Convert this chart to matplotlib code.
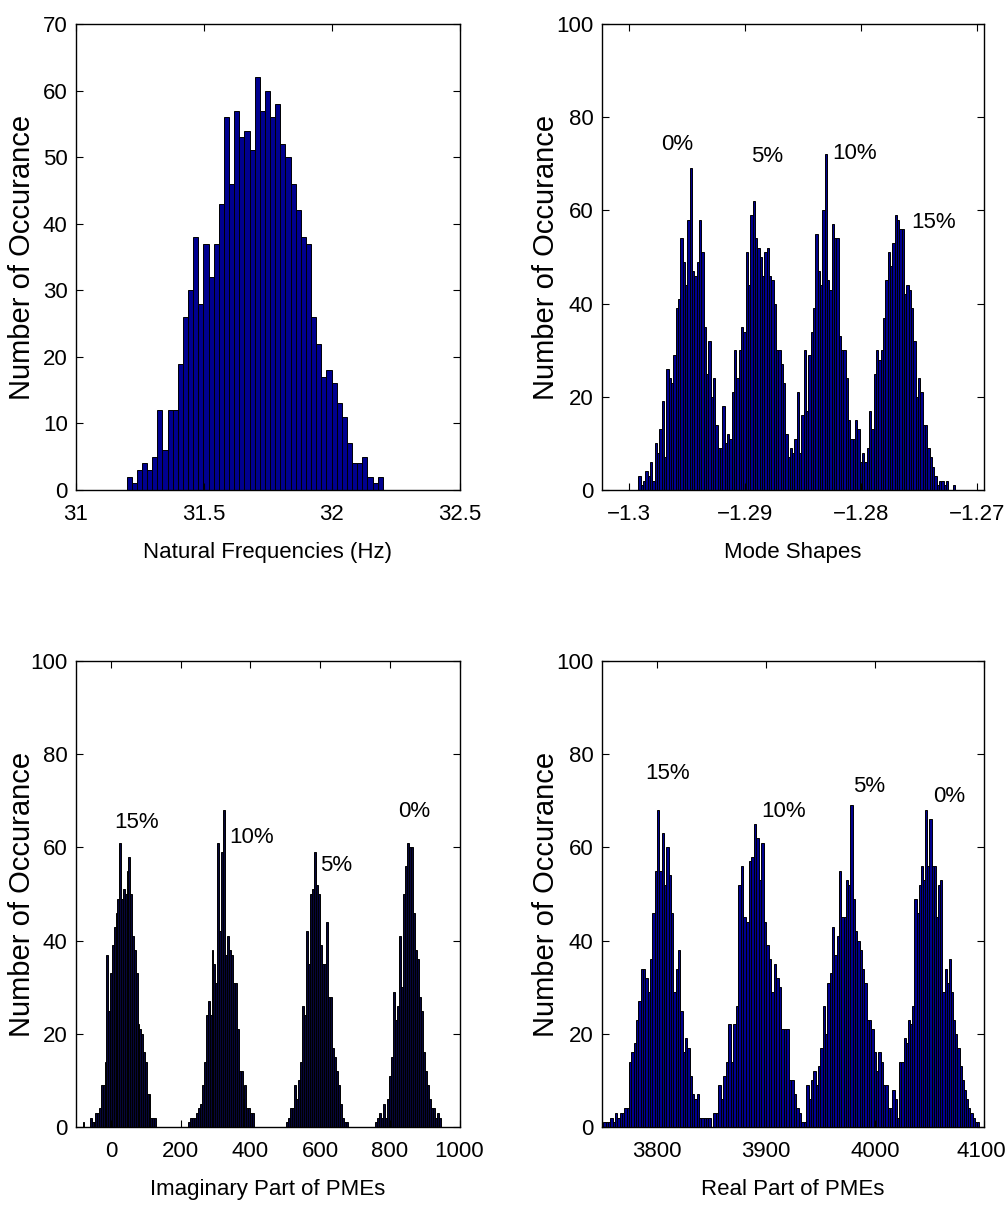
import numpy as np
import matplotlib.pyplot as plt
import matplotlib.transforms as mtransforms

plt.rcParams['font.family'] = ['Liberation Sans', 'DejaVu Sans']

# ---- datos ----
# Panel 1: frecuencias naturales
freq_counts = [2, 1, 3, 4, 3, 5, 12, 6, 12, 12, 19, 26, 30, 38, 28, 37, 32, 37, 43, 56,
               46, 57, 53, 54, 51, 62, 57, 60, 56, 58, 52, 50, 46, 42, 38, 37, 26, 22, 17, 18,
               16, 13, 11, 7, 4, 4, 5, 2, 1, 2]
freq_range = (31.198, 32.2)
freq_ticks = [31, 31.5, 32, 32.5]
freq_ticklabels = ['31', '31.5', '32', '32.5']

# Panel 2: formas modales
mode_counts = [3, 1, 2, 4, 3, 6, 2, 10, 8, 13, 19, 7, 26, 24, 23, 29, 39, 41, 54, 49,
               44, 58, 69, 47, 46, 49, 58, 51, 35, 25, 32, 20, 24, 14, 9, 9, 18, 10, 12, 11,
               21, 30, 24, 30, 35, 34, 51, 44, 59, 62, 54, 52, 50, 46, 51, 52, 46,
               45, 40, 30, 30, 27, 23, 12, 7, 9, 8, 11, 21, 8, 16, 30, 17, 29, 34, 39,
               55, 47, 44, 60, 72, 45, 43, 57, 54, 54, 33, 30, 30, 24, 15, 11, 11, 15, 13, 6,
               8, 6, 9, 17, 13, 25, 30, 28, 30, 37, 45, 51, 48, 53, 59, 58, 56, 56, 42, 44,
               43, 39, 32, 20, 24, 21, 14, 14, 9, 7, 5, 3, 1, 2, 2, 1, 2, 0, 0, 1]
mode_range = (-1.29920, -1.27187)
mode_xlim = (-1.30233, -1.26940)
mode_ticks = [-1.3, -1.29, -1.28, -1.27]
mode_ticklabels = ['\u22121.3', '\u22121.29', '\u22121.28', '\u22121.27']
mode_labels = ['0%', '5%', '10%', '15%']
mode_label_x = [-1.29582, -1.28810, -1.28060, -1.27371]
mode_label_y = [74.2, 71.5, 72.3, 57.3]

# Panel 3: parte imaginaria de los PMEs (un pico por nivel de ruido)
imag_15 = [1, 0, 0, 0, 2, 1, 1, 3, 3, 4, 9, 9, 14, 37, 25, 33, 39, 43, 46, 49,
           61, 49, 51, 50, 55, 58, 50, 41, 38, 33, 22, 21, 20, 16, 14, 7, 7, 2, 2, 2]
imag_10 = [1, 2, 2, 2, 3, 4, 5, 9, 14, 24, 27, 24, 38, 35, 31, 61, 42, 59, 68, 37,
           41, 38, 37, 31, 31, 21, 12, 12, 6, 9, 4, 4, 3, 3]
imag_5 = [1, 2, 4, 4, 9, 6, 10, 14, 26, 24, 42, 35, 50, 51, 59, 52, 50, 39, 35, 35,
          44, 28, 28, 17, 15, 12, 9, 5, 2, 1, 1]
imag_0 = [1, 2, 3, 2, 5, 2, 6, 11, 15, 29, 23, 26, 41, 30, 50, 56, 61, 60, 60, 46,
          38, 36, 28, 25, 16, 12, 9, 6, 4, 4, 2, 3, 2]
imag_ranges = [(-81, 129), (222, 411), (503, 680), (757, 946)]
imag_labels = ['15%', '10%', '5%', '0%']
imag_label_x = [74, 403, 646, 869]
imag_label_y = [65.3, 62.2, 56.2, 67.6]

# Panel 4: parte real de los PMEs
real_15 = [1, 1, 1, 2, 1, 3, 2, 3, 3, 4, 4, 14, 16, 18, 23, 27, 34, 34, 32, 29,
           36, 46, 55, 68, 55, 63, 52, 60, 54, 46, 29, 34, 38, 25, 16, 19, 17, 11, 7, 6,
           7, 2, 2, 2, 2, 2]
real_10 = [3, 3, 9, 6, 11, 14, 22, 14, 22, 26, 52, 56, 45, 44, 57, 58, 65, 62, 53, 61,
           44, 39, 36, 29, 35, 32, 30, 21, 21, 21, 10, 10, 7, 4, 3, 1, 1]
real_5 = [9, 6, 10, 12, 9, 13, 17, 26, 20, 31, 33, 43, 37, 41, 55, 45, 45, 53, 52, 69,
          49, 42, 40, 38, 34, 31, 23, 23, 21, 16, 12, 16, 14, 9, 9, 4, 4, 8, 6, 2]
real_0 = [14, 14, 19, 18, 23, 22, 26, 49, 46, 52, 56, 53, 68, 56, 66, 56, 56, 45, 52, 53,
          29, 34, 31, 36, 29, 23, 20, 17, 13, 10, 8, 6, 4, 3, 2, 1, 1]
real_ranges = [(3751.2, 3849.6), (3852.0, 3937.2), (3937.2, 4022.4), (4022.4, 4095.4)]
real_labels = ['15%', '10%', '5%', '0%']
real_label_x = [3810.5, 3916.8, 3994.6, 4068.4]
real_label_y = [75.8, 67.8, 73.0, 71.0]

ylabel_txt = 'Number of Occurance'
FS = 16


def barras(ax, counts, lo, hi, color='#00008F'):
    # histograma como barras con borde negro (estilo MATLAB)
    n = len(counts)
    w = (hi - lo) / n
    x = lo + w * np.arange(n)
    ax.bar(x, counts, width=w, align='edge', color=color, edgecolor='black', linewidth=0.7)


def estilo(ax, ylim, yticks, xlab_x):
    ax.set_ylim(*ylim)
    ax.set_yticks(yticks)
    ax.tick_params(direction='in', top=True, right=True, length=5, width=0.8,
                   labelsize=FS, pad=10)
    ax.tick_params(axis='y', pad=6)
    for s in ax.spines.values():
        s.set_linewidth(1.0)
    ax.set_ylabel(ylabel_txt, fontsize=21)
    ax.yaxis.set_label_coords(xlab_x, 0.5)


fig = plt.figure(figsize=(10.08, 12.07), dpi=100)
ax1 = fig.add_axes([76/1008, 1-490/1207, 383.5/1008, 466/1207])
ax2 = fig.add_axes([602/1008, 1-490/1207, 382/1008, 466/1207])
ax3 = fig.add_axes([76/1008, 1-1127/1207, 383.5/1008, 466/1207])
ax4 = fig.add_axes([602/1008, 1-1127/1207, 382/1008, 466/1207])

# Grafico 1
barras(ax1, freq_counts, *freq_range)
ax1.set_xlim(31, 32.5)
ax1.set_xticks(freq_ticks)
ax1.set_xticklabels(freq_ticklabels)
estilo(ax1, (0, 70), range(0, 71, 10), -0.104)
ax1.set_xlabel('Natural Frequencies (Hz)', fontsize=FS, labelpad=12)

# Grafico 2
barras(ax2, mode_counts, *mode_range)
ax2.set_xlim(*mode_xlim)
ax2.set_xticks(mode_ticks)
ax2.set_xticklabels(mode_ticklabels)
estilo(ax2, (0, 100), range(0, 101, 20), -0.11)
ax2.set_xlabel('Mode Shapes', fontsize=FS, labelpad=12)
for t, x, y in zip(mode_labels, mode_label_x, mode_label_y):
    ax2.text(x, y, t, fontsize=FS, ha='center', va='center')

# Grafico 3
for c, (lo, hi) in zip([imag_15, imag_10, imag_5, imag_0], imag_ranges):
    barras(ax3, c, lo, hi, color='#06063a')
ax3.set_xlim(-100, 1000)
ax3.set_xticks(range(0, 1001, 200))
estilo(ax3, (0, 100), range(0, 101, 20), -0.104)
ax3.set_xlabel('Imaginary Part of PMEs', fontsize=FS, labelpad=12)
for t, x, y in zip(imag_labels, imag_label_x, imag_label_y):
    ax3.text(x, y, t, fontsize=FS, ha='center', va='center')

# Grafico 4
for c, (lo, hi) in zip([real_15, real_10, real_5, real_0], real_ranges):
    barras(ax4, c, lo, hi)
ax4.set_xlim(3750, 4100)
ax4.set_xticks(range(3800, 4101, 100))
estilo(ax4, (0, 100), range(0, 101, 20), -0.11)
ax4.set_xlabel('Real Part of PMEs', fontsize=FS, labelpad=12)
for t, x, y in zip(real_labels, real_label_x, real_label_y):
    ax4.text(x, y, t, fontsize=FS, ha='center', va='center')
# "4100" queda pegado al borde derecho de la figura
ult4 = ax4.get_xticklabels()[-1]
ult4.set_transform(ult4.get_transform() + mtransforms.ScaledTranslation(-3/100, 0, fig.dpi_scale_trans))

fig.savefig('out.png', dpi=100)
